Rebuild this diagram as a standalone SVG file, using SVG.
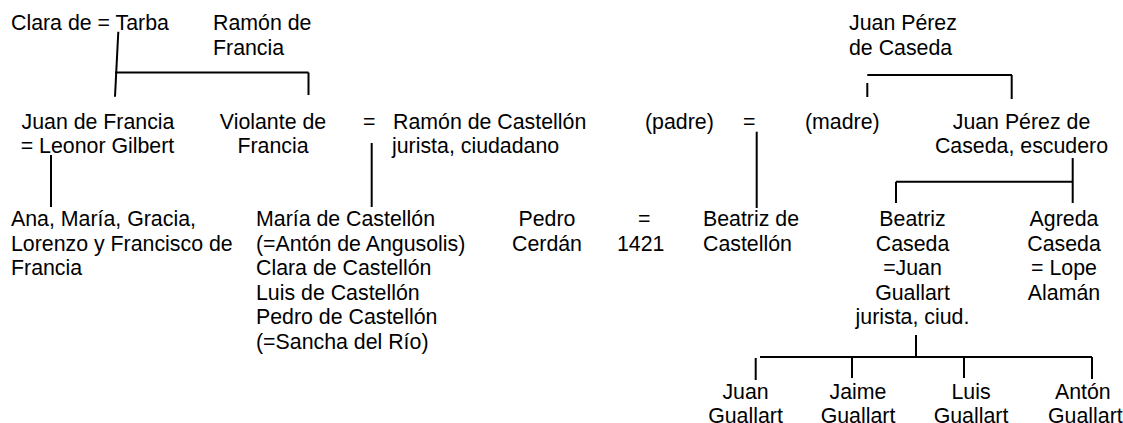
<svg xmlns="http://www.w3.org/2000/svg" width="1123" height="423" viewBox="0 0 1123 423">
<style>
text{font-family:"Liberation Sans",Arial,sans-serif;font-size:21.33px;fill:#000}
.m{text-anchor:middle}
.c{stroke:#000;stroke-width:2;fill:none}
</style>
<rect width="1123" height="423" fill="#fff"/>
<g id="connectors" class="c">
<path d="M118.3 31.7 L115 96.7"/>
<path d="M115 72.5 H308.5 M308.5 72.5 V95"/>
<path d="M51 155 V207"/>
<path d="M371.7 143 V207"/>
<path d="M756.7 131.7 V208"/>
<path d="M867.3 75 H1012 M867.3 83 V97 M1011.7 75 V99"/>
<path d="M1072.7 158 V203 M896 181.7 H1072.7 M896 181.7 V203"/>
<path d="M916 335 V357 M760 357 H1092"/>
<path d="M755.7 358 V380 M852 357 V378 M964 357 V378 M1092 357 V379"/>
</g>
<g id="clara"><text x="11" y="30">Clara de = Tarba</text></g>
<g id="ramon-francia"><text x="213" y="30">Ramón de</text><text x="213" y="54.5">Francia</text></g>
<g id="juan-perez-caseda"><text x="849" y="30">Juan Pérez</text><text x="849" y="54.5">de Caseda</text></g>
<g id="juan-francia"><text x="21.5" y="128.5">Juan de Francia</text><text x="20.7" y="153">= Leonor Gilbert</text></g>
<g id="violante"><text class="m" x="273" y="128.5">Violante de</text><text class="m" x="273" y="153">Francia</text></g>
<g id="eq1"><text x="363" y="128.5">=</text></g>
<g id="ramon-castellon"><text x="393" y="128.5">Ramón de Castellón</text><text x="392" y="153">jurista, ciudadano</text></g>
<g id="padre"><text x="645" y="128.5">(padre)</text></g>
<g id="eq2"><text x="743" y="128.5">=</text></g>
<g id="madre"><text x="805" y="128.5">(madre)</text></g>
<g id="juan-perez-escudero"><text class="m" x="1021.5" y="128.5">Juan Pérez de</text><text class="m" x="1021.5" y="153">Caseda, escudero</text></g>
<g id="hijos-francia"><text x="11" y="226">Ana, María, Gracia,</text><text x="11" y="250.5">Lorenzo y Francisco de</text><text x="11" y="275">Francia</text></g>
<g id="hijos-castellon"><text x="256" y="226">María de Castellón</text><text x="256" y="250.5">(=Antón de Angusolis)</text><text x="256" y="275">Clara de Castellón</text><text x="256" y="299.5">Luis de Castellón</text><text x="256" y="324">Pedro de Castellón</text><text x="256" y="348.5">(=Sancha del Río)</text></g>
<g id="pedro-cerdan"><text class="m" x="547" y="226">Pedro</text><text class="m" x="547" y="250.5">Cerdán</text></g>
<g id="eq3"><text x="638" y="226">=</text><text x="617" y="250.5">1421</text></g>
<g id="beatriz-castellon"><text x="703" y="226">Beatriz de</text><text x="703" y="250.5">Castellón</text></g>
<g id="beatriz-caseda"><text class="m" x="912.5" y="226">Beatriz</text><text class="m" x="912.5" y="250.5">Caseda</text><text class="m" x="912.5" y="275">=Juan</text><text class="m" x="912.5" y="299.5">Guallart</text><text class="m" x="912.5" y="324">jurista, ciud.</text></g>
<g id="agreda"><text class="m" x="1064" y="226">Agreda</text><text class="m" x="1064" y="250.5">Caseda</text><text class="m" x="1064" y="275">= Lope</text><text class="m" x="1064" y="299.5">Alamán</text></g>
<g id="juan-guallart"><text class="m" x="745.5" y="398.5">Juan</text><text class="m" x="745.5" y="423">Guallart</text></g>
<g id="jaime-guallart"><text class="m" x="858" y="398.5">Jaime</text><text class="m" x="858" y="423">Guallart</text></g>
<g id="luis-guallart"><text class="m" x="971" y="398.5">Luis</text><text class="m" x="971" y="423">Guallart</text></g>
<g id="anton-guallart"><text x="1055" y="398.5">Antón</text><text x="1048" y="423">Guallart</text></g>
</svg>
